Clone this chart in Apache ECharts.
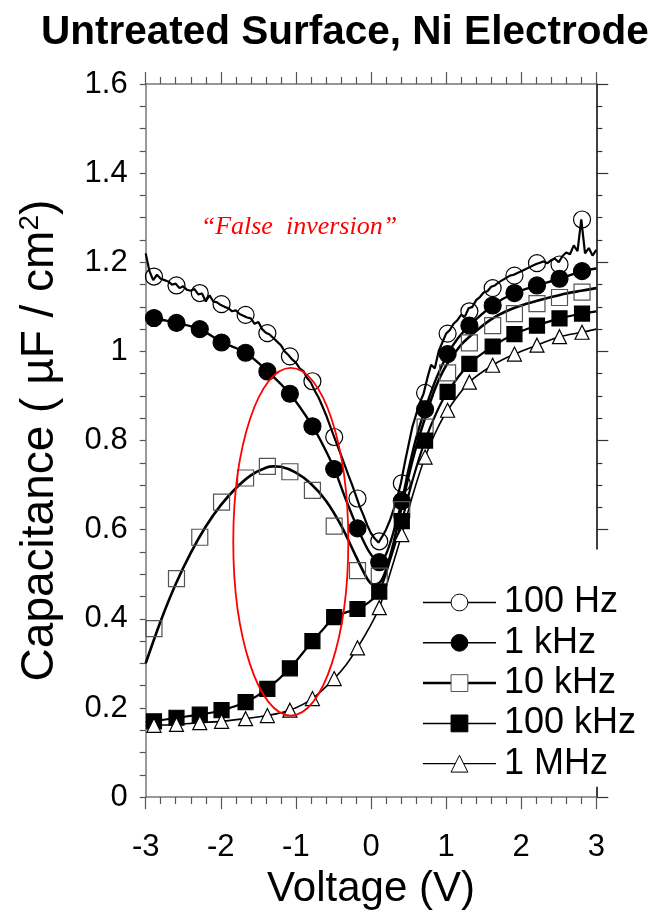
<!DOCTYPE html>
<html><head><meta charset="utf-8">
<script src="https://cdn.jsdelivr.net/npm/echarts@6/dist/echarts.min.js"></script>
<style>html,body{margin:0;padding:0;background:#fff}#c{width:662px;height:915px}</style>
</head><body><div id="c"></div>
<script>
// ---------- data ----------
const seriesNames = ['100 Hz', '1 kHz', '10 kHz', '100 kHz', '1 MHz'];
const xTicks = [-3, -2, -1, 0, 1, 2, 3];
const yTicks = [0, 0.2, 0.4, 0.6, 0.8, 1, 1.2, 1.4, 1.6];

// voltages of the plotted markers (shared by all frequencies)
const markerV = [-2.89, -2.59, -2.28, -1.99, -1.67, -1.38, -1.08, -0.78, -0.49, -0.18, 0.11, 0.41, 0.72, 1.02, 1.31, 1.62, 1.91, 2.21, 2.51, 2.81];
const markers100Hz = [1.168, 1.148, 1.131, 1.106, 1.082, 1.041, 0.989, 0.933, 0.808, 0.670, 0.574, 0.704, 0.907, 1.040, 1.090, 1.142, 1.170, 1.198, 1.195, 1.296];
const markers1kHz = [1.075, 1.064, 1.050, 1.020, 0.997, 0.955, 0.905, 0.832, 0.736, 0.603, 0.527, 0.664, 0.870, 0.994, 1.058, 1.103, 1.131, 1.148, 1.163, 1.180];
const markers10kHz = [0.378, 0.490, 0.583, 0.662, 0.716, 0.742, 0.730, 0.688, 0.608, 0.508, 0.496, 0.645, 0.830, 0.952, 1.019, 1.058, 1.085, 1.107, 1.121, 1.133];
const markers100kHz = [0.170, 0.178, 0.185, 0.195, 0.213, 0.243, 0.289, 0.350, 0.404, 0.422, 0.461, 0.619, 0.800, 0.909, 0.972, 1.011, 1.039, 1.058, 1.074, 1.085];
const markers1MHz = [0.161, 0.163, 0.167, 0.170, 0.176, 0.183, 0.195, 0.221, 0.266, 0.335, 0.425, 0.589, 0.763, 0.868, 0.931, 0.969, 0.994, 1.014, 1.033, 1.043];

// continuous curves
const line100HzV = [-3.00,-2.95,-2.90,-2.85,-2.80,-2.75,-2.70,-2.65,-2.60,-2.55,-2.50,-2.45,-2.40,-2.35,-2.30,-2.25,-2.20,-2.15,-2.10,-2.05,-2.00,-1.95,-1.90,-1.85,-1.80,-1.75,-1.70,-1.65,-1.60,-1.55,-1.50,-1.45,-1.40,-1.35,-1.30,-1.25,-1.20,-1.15,-1.10,-1.05,-1.00,-0.95,-0.90,-0.85,-0.80,-0.75,-0.70,-0.65,-0.60,-0.55,-0.50,-0.45,-0.40,-0.35,-0.30,-0.25,-0.20,-0.15,-0.10,-0.05,0.00,0.05,0.10,0.15,0.20,0.25,0.30,0.35,0.40,0.45,0.50,0.55,0.60,0.65,0.70,0.75,0.80,0.85,0.90,0.95,1.00,1.05,1.10,1.15,1.20,1.25,1.30,1.35,1.40,1.45,1.50,1.55,1.60,1.65,1.70,1.75,1.80,1.85,1.90,1.95,2.00,2.05,2.10,2.15,2.20,2.25,2.30,2.35,2.40,2.45,2.50,2.55,2.60,2.65,2.70,2.75,2.80,2.85,2.90,2.95,3.00];
const line100HzC = [1.220,1.180,1.160,1.172,1.163,1.160,1.157,1.150,1.152,1.142,1.146,1.138,1.136,1.140,1.128,1.130,1.112,1.126,1.112,1.110,1.104,1.100,1.097,1.090,1.092,1.084,1.080,1.076,1.074,1.062,1.066,1.050,1.042,1.038,1.030,1.022,1.014,1.000,0.992,0.982,0.975,0.962,0.956,0.940,0.930,0.912,0.897,0.878,0.858,0.835,0.812,0.790,0.768,0.745,0.722,0.700,0.676,0.652,0.632,0.610,0.592,0.580,0.571,0.585,0.600,0.620,0.645,0.672,0.706,0.750,0.790,0.830,0.858,0.885,0.905,0.940,0.970,0.962,1.000,1.020,1.040,1.048,1.062,1.070,1.082,1.078,1.097,1.100,1.115,1.122,1.132,1.135,1.145,1.148,1.155,1.160,1.165,1.170,1.172,1.176,1.180,1.184,1.188,1.192,1.196,1.199,1.202,1.198,1.205,1.208,1.200,1.214,1.222,1.218,1.238,1.225,1.296,1.220,1.232,1.215,1.228];
const line1kHzV = [-3.0,-2.89,-2.59,-2.28,-1.99,-1.67,-1.38,-1.08,-0.78,-0.64,-0.49,-0.34,-0.18,-0.03,0.11,0.2,0.3,0.41,0.5,0.6,0.72,0.87,1.02,1.16,1.31,1.62,1.91,2.21,2.51,2.81,3.0];
const line1kHzC = [1.082,1.075,1.064,1.050,1.021,0.997,0.956,0.905,0.833,0.790,0.737,0.670,0.604,0.552,0.527,0.545,0.595,0.664,0.735,0.805,0.870,0.940,0.994,1.030,1.058,1.103,1.131,1.148,1.163,1.180,1.186];
const line10kHzV = [-3.0,-2.8,-2.6,-2.4,-2.2,-2.0,-1.8,-1.6,-1.4,-1.3,-1.2,-1.0,-0.8,-0.6,-0.4,-0.2,-0.05,0.03,0.12,0.2,0.3,0.4,0.5,0.6,0.7,0.85,1.0,1.2,1.4,1.6,1.8,2.0,2.2,2.4,2.6,2.8,3.0];
const line10kHzC = [0.300,0.395,0.478,0.548,0.607,0.655,0.693,0.722,0.739,0.742,0.741,0.728,0.703,0.665,0.610,0.540,0.490,0.477,0.482,0.510,0.570,0.645,0.720,0.785,0.840,0.915,0.968,1.015,1.046,1.072,1.090,1.103,1.113,1.122,1.130,1.136,1.142];
const line100kHzV = [-3.0,-2.89,-2.59,-2.28,-1.99,-1.67,-1.38,-1.08,-0.78,-0.62,-0.49,-0.34,-0.18,-0.03,0.11,0.26,0.41,0.56,0.72,0.87,1.02,1.31,1.62,1.91,2.21,2.51,2.81,3.0];
const line100kHzC = [0.168,0.170,0.178,0.185,0.195,0.213,0.243,0.289,0.350,0.380,0.404,0.414,0.422,0.437,0.461,0.535,0.619,0.715,0.800,0.862,0.909,0.972,1.011,1.039,1.058,1.074,1.085,1.090];
const line1MHzV = [-3.0,-2.89,-2.59,-2.28,-1.99,-1.67,-1.38,-1.08,-0.78,-0.49,-0.33,-0.18,-0.03,0.11,0.26,0.41,0.56,0.72,0.87,1.02,1.31,1.62,1.91,2.21,2.51,2.81,3.0];
const line1MHzC = [0.160,0.161,0.163,0.167,0.170,0.176,0.183,0.195,0.221,0.266,0.297,0.335,0.378,0.425,0.505,0.589,0.680,0.763,0.822,0.868,0.931,0.969,0.994,1.014,1.033,1.043,1.050];

// annotation (data coordinates)
const noteText = '\u201CFalse  inversion\u201D';
const notePos = [-0.96, 1.278];
const ellipseCenter = [-1.068, 0.573];
const ellipseRadius = [0.766, 0.390];

// ---------- chart ----------
const FONT = 'Liberation Sans';
const chart = echarts.init(document.getElementById('c'), null, {renderer: 'canvas'});
const zip = (a, b) => a.map((v, i) => [v, b[i]]);

const styles = [
  {sym: 'circle', fill: 'rgba(0,0,0,0)', legendFill: '#fff', border: '#000', size: 17, lw: 2.2, llw: 1.5},
  {sym: 'circle', fill: '#000', legendFill: '#000', border: '#000', size: 17, lw: 2.4, llw: 1.5},
  {sym: 'rect', fill: 'rgba(0,0,0,0)', legendFill: '#fff', border: '#555', size: 16, lw: 2.6, llw: 2.5},
  {sym: 'rect', fill: '#000', legendFill: '#000', border: '#000', size: 15, lw: 2.2, llw: 1.5},
  {sym: 'triangle', fill: '#fff', legendFill: '#fff', border: '#000', size: 14, lw: 1.6, llw: 1.2}
];
const lines = [zip(line100HzV, line100HzC), zip(line1kHzV, line1kHzC), zip(line10kHzV, line10kHzC), zip(line100kHzV, line100kHzC), zip(line1MHzV, line1MHzC)];
const marks = [markers100Hz, markers1kHz, markers10kHz, markers100kHz, markers1MHz].map(m => zip(markerV, m));
const smoothing = [false, 0.3, 0.3, 0.3, 0.3];

const series = [];
seriesNames.forEach((name, i) => {
  const s = styles[i];
  series.push({
    type: 'line', name: name, data: lines[i], symbol: s.sym, showSymbol: false,
    smooth: smoothing[i], silent: true, z: 2,
    lineStyle: {color: '#000', width: s.lw},
    itemStyle: {color: s.legendFill, borderColor: s.border, borderWidth: 1}
  });
});
seriesNames.forEach((name, i) => {
  const s = styles[i];
  series.push({
    type: 'scatter', name: name + ' markers', data: marks[i], symbol: s.sym, symbolSize: s.size,
    silent: true, z: 3,
    itemStyle: {color: s.fill, borderColor: s.border, borderWidth: 1.2, opacity: 1}
  });
});

const axisGray = '#777';
const option = {
  animation: false,
  backgroundColor: '#fff',
  title: {
    text: 'Untreated Surface, Ni Electrode', left: 36, top: 7,
    textStyle: {fontFamily: FONT, fontSize: 40.5, fontWeight: 'bold', color: '#000'}
  },
  grid: {left: 145.7, right: 65.7, top: 84, bottom: 117.3, containLabel: false},
  legend: {
    orient: 'vertical', left: 411.7, top: 549.5, padding: [35, 20, 5, 10],
    itemWidth: 73, itemHeight: 21, itemGap: 4.3, backgroundColor: '#fff', selectedMode: false,
    textStyle: {fontFamily: FONT, fontSize: 36, color: '#000', padding: [0, 0, 0, 3]},
    data: seriesNames.map((n, i) => ({
      name: n,
      itemStyle: {color: styles[i].legendFill, borderColor: styles[i].border, borderWidth: 1},
      lineStyle: {color: '#000', width: styles[i].llw}
    }))
  },
  xAxis: [
    {
      type: 'value', position: 'bottom', min: xTicks[0], max: xTicks[xTicks.length - 1], interval: 1,
      axisLine: {show: true, onZero: false, lineStyle: {color: axisGray, width: 1.5}},
      axisTick: {show: true, length: 12, lineStyle: {color: '#555', width: 1.2}},
      minorTick: {show: true, splitNumber: 5, length: 7, lineStyle: {color: '#555', width: 1.2}},
      splitLine: {show: false},
      axisLabel: {fontFamily: FONT, fontSize: 31, color: '#000', margin: 35},
      name: 'Voltage (V)', nameLocation: 'middle', nameGap: 67,
      nameTextStyle: {fontFamily: FONT, fontSize: 42, color: '#000'}
    },
    {
      type: 'value', position: 'top', min: xTicks[0], max: xTicks[xTicks.length - 1], interval: 1,
      axisLine: {show: true, onZero: false, lineStyle: {color: axisGray, width: 1.5}},
      axisTick: {show: true, length: 12, lineStyle: {color: '#555', width: 1.2}},
      minorTick: {show: true, splitNumber: 5, length: 7, lineStyle: {color: '#555', width: 1.2}},
      splitLine: {show: false}, axisLabel: {show: false}
    }
  ],
  yAxis: [
    {
      type: 'value', position: 'left', min: yTicks[0], max: yTicks[yTicks.length - 1], interval: 0.2,
      axisLine: {show: true, onZero: false, lineStyle: {color: axisGray, width: 1.5}},
      axisTick: {show: true, length: 6, lineStyle: {color: '#555', width: 1.2}},
      minorTick: {show: true, splitNumber: 4, length: 6, lineStyle: {color: '#555', width: 1.2}},
      splitLine: {show: false},
      axisLabel: {fontFamily: FONT, fontSize: 31, color: '#000', margin: 18},
      name: 'Capacitance ( \u00B5F / cm{sup|2})', nameLocation: 'middle', nameGap: 81,
      nameTextStyle: {fontFamily: FONT, fontSize: 46, color: '#000',
        rich: {sup: {fontFamily: FONT, fontSize: 28, color: '#000', verticalAlign: 'top', padding: [0, 0, 20, 0]}}}
    },
    {
      type: 'value', position: 'right', min: yTicks[0], max: yTicks[yTicks.length - 1], interval: 0.2,
      axisLine: {show: true, onZero: false, lineStyle: {color: '#000', width: 1.5}},
      axisTick: {show: true, length: 12, lineStyle: {color: '#333', width: 1.2}},
      minorTick: {show: true, splitNumber: 4, length: 6, lineStyle: {color: '#333', width: 1.2}},
      splitLine: {show: false}, axisLabel: {show: false}
    }
  ],
  series: series
};
chart.setOption(option);

// annotation positioned from data coordinates
const c = chart.convertToPixel({gridIndex: 0}, ellipseCenter);
const ex = chart.convertToPixel({gridIndex: 0}, [ellipseCenter[0] + ellipseRadius[0], ellipseCenter[1] + ellipseRadius[1]]);
const tp = chart.convertToPixel({gridIndex: 0}, notePos);
chart.setOption({
  graphic: [
    {type: 'ellipse', z: 10, shape: {cx: c[0], cy: c[1], rx: Math.abs(ex[0] - c[0]), ry: Math.abs(ex[1] - c[1])},
     style: {fill: 'none', stroke: '#ff0000', lineWidth: 1.8}},
    {type: 'text', z: 10, x: tp[0], y: tp[1],
     style: {text: noteText, fill: '#ff0000', font: 'italic 26px "Liberation Serif"', textAlign: 'center', textVerticalAlign: 'middle'}}
  ]
});
</script></body></html>
